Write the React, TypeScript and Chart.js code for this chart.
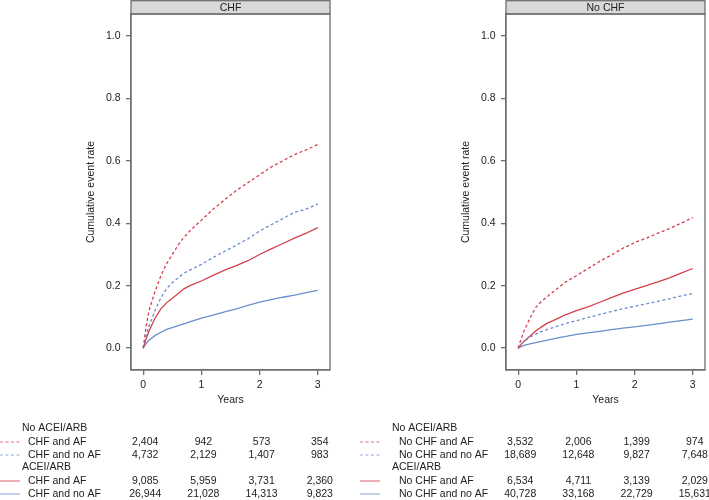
import React, { useEffect, useRef } from 'react';
import { Chart, registerables } from 'chart.js';
Chart.register(...registerables);

// time grid (years)
const times = [0, 0.05, 0.1, 0.2, 0.3, 0.4, 0.5, 0.6, 0.7, 0.8, 1.0, 1.2, 1.4, 1.6, 1.8, 2.0, 2.2, 2.4, 2.6, 2.8, 3.0];

// CHF panel
const chfAfNoAcei = [0, 0.07, 0.12, 0.18, 0.23, 0.27, 0.3, 0.33, 0.355, 0.375, 0.41, 0.445, 0.475, 0.505, 0.53, 0.555, 0.58, 0.6, 0.62, 0.635, 0.652];
const chfNoAfNoAcei = [0, 0.04, 0.07, 0.12, 0.16, 0.19, 0.21, 0.225, 0.24, 0.25, 0.268, 0.29, 0.31, 0.33, 0.35, 0.375, 0.395, 0.415, 0.435, 0.445, 0.462];
const chfAfAcei = [0, 0.03, 0.055, 0.095, 0.125, 0.145, 0.16, 0.175, 0.19, 0.2, 0.215, 0.233, 0.25, 0.264, 0.28, 0.3, 0.318, 0.335, 0.352, 0.368, 0.386];
const chfNoAfAcei = [0, 0.015, 0.025, 0.04, 0.05, 0.06, 0.066, 0.072, 0.078, 0.084, 0.096, 0.106, 0.116, 0.126, 0.137, 0.147, 0.155, 0.163, 0.17, 0.178, 0.185];

// No CHF panel
const noChfAfNoAcei = [0, 0.03, 0.055, 0.095, 0.13, 0.15, 0.165, 0.18, 0.195, 0.21, 0.232, 0.255, 0.278, 0.298, 0.32, 0.338, 0.352, 0.368, 0.383, 0.4, 0.418];
const noChfNoAfNoAcei = [0, 0.012, 0.022, 0.035, 0.045, 0.053, 0.06, 0.066, 0.072, 0.078, 0.088, 0.098, 0.108, 0.117, 0.126, 0.134, 0.142, 0.15, 0.158, 0.167, 0.175];
const noChfAfAcei = [0, 0.012, 0.022, 0.038, 0.055, 0.068, 0.08, 0.088, 0.097, 0.106, 0.12, 0.132, 0.147, 0.162, 0.176, 0.188, 0.2, 0.212, 0.225, 0.24, 0.255];
const noChfNoAfAcei = [0, 0.005, 0.009, 0.014, 0.018, 0.022, 0.026, 0.03, 0.034, 0.037, 0.044, 0.049, 0.054, 0.059, 0.064, 0.068, 0.073, 0.078, 0.083, 0.088, 0.093];

const yearTicks = [0, 1, 2, 3];
const rateTicks = [0, 0.2, 0.4, 0.6, 0.8, 1.0];

const groupLabels = ['No ACEI/ARB', 'ACEI/ARB'];
const chfRowLabels = ['CHF and AF', 'CHF and no AF', 'CHF and AF', 'CHF and no AF'];
const noChfRowLabels = ['No CHF and AF', 'No CHF and no AF', 'No CHF and AF', 'No CHF and no AF'];

const chfAtRisk = [
  [2404, 942, 573, 354],
  [4732, 2129, 1407, 983],
  [9085, 5959, 3731, 2360],
  [26944, 21028, 14313, 9823],
];
const noChfAtRisk = [
  [3532, 2006, 1399, 974],
  [18689, 12648, 9827, 7648],
  [6534, 4711, 3139, 2029],
  [40728, 33168, 22729, 15631],
];

const RED = '#d2404b';
const BLUE = '#6b8fcb';
const FRAME = '#6e6e6e';
const STRIP = '#d9d9d9';
const TEXT = '#222222';
const FAMILY = "'Liberation Sans', Arial, Helvetica, sans-serif";
const FONT_SIZE = 10.5;
const CSS_FONT = `${FONT_SIZE}px ${FAMILY}`;

const styles = [
  { color: RED, dash: [3, 2.5] },
  { color: BLUE, dash: [3, 2.5] },
  { color: RED, dash: [] as number[] },
  { color: BLUE, dash: [] as number[] },
];

type PanelProps = {
  left: number;
  width: number;
  strip: string;
  series: number[][];
  rowLabels: string[];
  atRisk: number[][];
  padLeft: number;
  padRight: number;
  groupX: number;
  labelX: number;
};

function Panel(p: PanelProps) {
  const ref = useRef<HTMLCanvasElement>(null);
  useEffect(() => {
    const canvas = ref.current!;
    const datasets = p.series.map((vals, i) => ({
      label: p.rowLabels[i],
      data: times.map((t, j) => ({ x: t, y: vals[j] })),
      borderColor: styles[i].color,
      borderDash: styles[i].dash,
      borderWidth: 1.3,
      pointRadius: 0,
      tension: 0,
      fill: false,
    }));
    const decor = {
      id: 'panelDecor',
      afterDraw(chart: any) {
        const { ctx, chartArea: a, scales } = chart;
        const xs = scales.x;
        ctx.save();
        ctx.setLineDash([]);
        ctx.lineWidth = 1.3;
        ctx.strokeStyle = FRAME;
        ctx.fillStyle = STRIP;
        ctx.fillRect(a.left, 0.7, a.right - a.left, a.top - 0.7);
        ctx.strokeRect(a.left, 0.7, a.right - a.left, a.top - 0.7);
        ctx.strokeRect(a.left, a.top, a.right - a.left, a.bottom - a.top);
        ctx.fillStyle = TEXT;
        ctx.font = CSS_FONT;
        ctx.textAlign = 'center';
        ctx.textBaseline = 'middle';
        ctx.fillText(p.strip, (a.left + a.right) / 2, 7.8);

        const groupY = [428, 467];
        const rowY = [442, 455, 481, 494];
        ctx.textAlign = 'left';
        groupLabels.forEach((g, i) => ctx.fillText(g, p.groupX, groupY[i]));
        p.rowLabels.forEach((lab, i) => {
          ctx.fillStyle = TEXT;
          ctx.fillText(lab, p.labelX, rowY[i]);
          ctx.beginPath();
          ctx.setLineDash(styles[i].dash);
          ctx.strokeStyle = styles[i].color;
          ctx.globalAlpha = 0.75;
          ctx.lineWidth = 1.1;
          ctx.moveTo(0, rowY[i]);
          ctx.lineTo(20, rowY[i]);
          ctx.stroke();
          ctx.globalAlpha = 1;
        });
        ctx.setLineDash([]);
        ctx.textAlign = 'center';
        ctx.fillStyle = TEXT;
        p.atRisk.forEach((row, i) =>
          row.forEach((n, k) => {
            ctx.fillText(n.toLocaleString('en-US'), xs.getPixelForValue(yearTicks[k]) + 2, rowY[i]);
          })
        );
        ctx.restore();
      },
    };
    const font = { family: FAMILY, size: FONT_SIZE };
    const chart = new Chart(canvas, {
      type: 'line',
      data: { datasets },
      options: {
        responsive: false,
        animation: false,
        devicePixelRatio: 1,
        layout: { padding: { left: p.padLeft, right: p.padRight, top: 14, bottom: 94 } },
        plugins: { legend: { display: false }, tooltip: { enabled: false } },
        scales: {
          x: {
            type: 'linear',
            min: -0.21,
            max: 3.21,
            afterBuildTicks: (s: any) => {
              s.ticks = yearTicks.map((v) => ({ value: v }));
            },
            afterFit: (s: any) => {
              s.height = 36;
            },
            ticks: { font, color: TEXT, padding: 3.5, maxRotation: 0, autoSkip: false, callback: (v: any) => String(v) },
            grid: { display: true, drawOnChartArea: false, drawTicks: true, tickLength: 5, color: FRAME, lineWidth: 1.3 },
            border: { display: true, color: FRAME, width: 1.3 },
            title: { display: true, text: 'Years', font, color: TEXT, padding: 0 },
          },
          y: {
            type: 'linear',
            min: -0.07,
            max: 1.07,
            afterBuildTicks: (s: any) => {
              s.ticks = rateTicks.map((v) => ({ value: v }));
            },
            afterFit: (s: any) => {
              s.width = 46;
            },
            ticks: { font, color: TEXT, padding: 5.5, autoSkip: false, callback: (v: any) => Number(v).toFixed(1) },
            grid: { display: true, drawOnChartArea: false, drawTicks: true, tickLength: 5, color: FRAME, lineWidth: 1.3 },
            border: { display: true, color: FRAME, width: 1.3 },
            title: { display: true, text: 'Cumulative event rate', font, color: TEXT, padding: 0 },
          },
        },
      },
      plugins: [decor],
    } as any);
    return () => chart.destroy();
  }, []);
  return (
    <canvas
      ref={ref}
      width={p.width}
      height={500}
      style={{ position: 'absolute', left: p.left, top: 0, width: p.width, height: 500 }}
    />
  );
}

export default function App() {
  return (
    <div style={{ position: 'fixed', left: 0, top: 0, width: 709, height: 500, background: '#ffffff', overflow: 'hidden' }}>
      <Panel
        left={0}
        width={360}
        strip="CHF"
        series={[chfAfNoAcei, chfNoAfNoAcei, chfAfAcei, chfNoAfAcei]}
        rowLabels={chfRowLabels}
        atRisk={chfAtRisk}
        padLeft={85}
        padRight={30}
        groupX={22}
        labelX={28}
      />
      <Panel
        left={360}
        width={349}
        strip="No CHF"
        series={[noChfAfNoAcei, noChfNoAfNoAcei, noChfAfAcei, noChfNoAfAcei]}
        rowLabels={noChfRowLabels}
        atRisk={noChfAtRisk}
        padLeft={100}
        padRight={4}
        groupX={32}
        labelX={39}
      />
    </div>
  );
}
